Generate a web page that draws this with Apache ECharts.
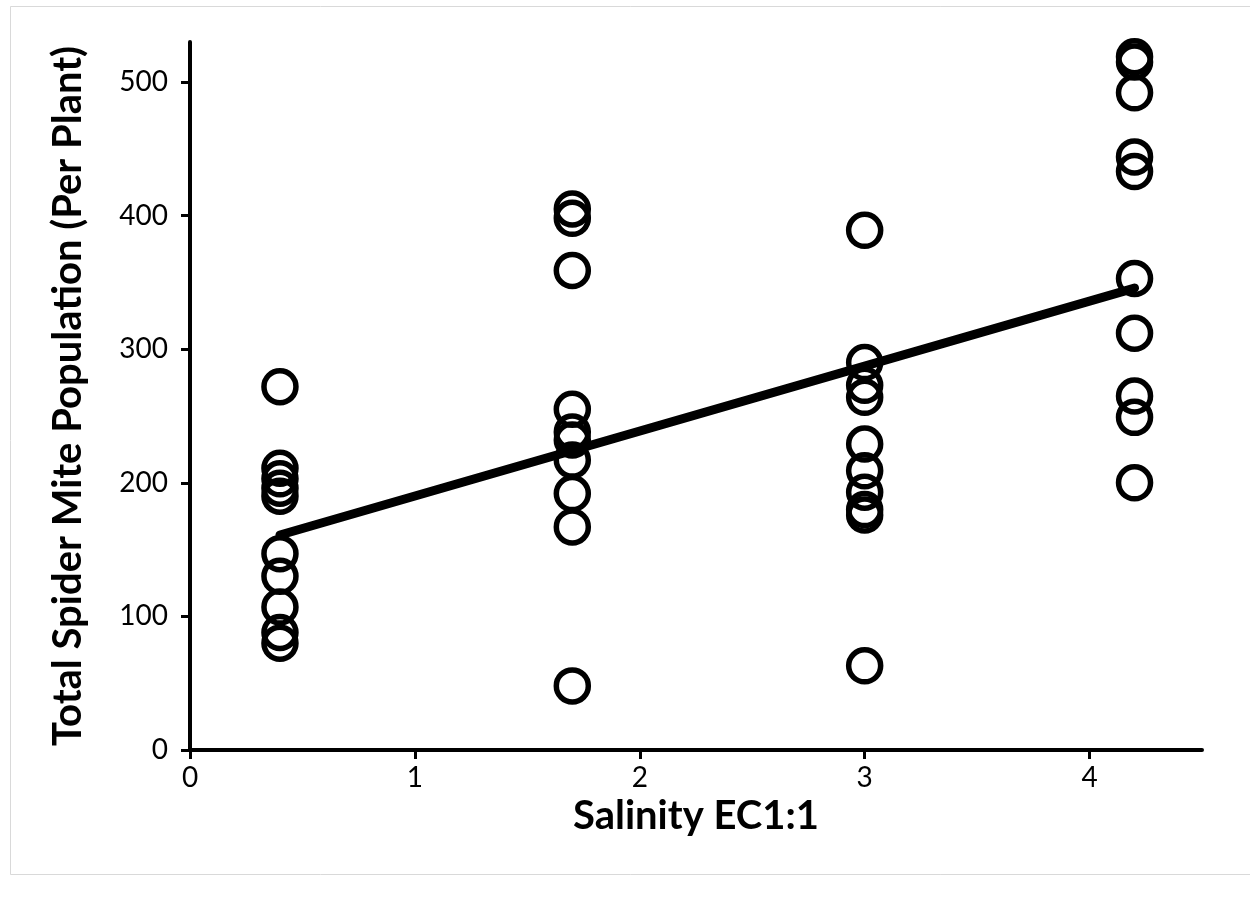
<!DOCTYPE html>
<html>
<head>
<meta charset="utf-8">
<script src="https://cdn.jsdelivr.net/npm/echarts@6/dist/echarts.min.js"></script>
<style>html,body{margin:0;padding:0;background:#fff}#c{width:1250px;height:907px}</style>
</head>
<body>
<div id="c"></div>
<script>
const salinityLevels = [0.4, 1.7, 3.0, 4.2];
const mitesAt04 = [272, 211, 203, 196, 190, 147, 130, 107, 88, 80];
const mitesAt17 = [405, 398, 359, 255, 238, 232, 217, 192, 167, 48];
const mitesAt30 = [389, 290, 273, 264, 229, 209, 193, 180, 176, 63];
const mitesAt42 = [519, 515, 492, 444, 433, 353, 312, 265, 249, 200];
const xTicks = [0, 1, 2, 3, 4];
const yTicks = [0, 100, 200, 300, 400, 500];

const groups = [mitesAt04, mitesAt17, mitesAt30, mitesAt42];
const points = [];
groups.forEach((g, i) => g.forEach(v => points.push([salinityLevels[i], v])));

// least-squares trend line from the observed points
const n = points.length;
const mx = points.reduce((s, p) => s + p[0], 0) / n;
const my = points.reduce((s, p) => s + p[1], 0) / n;
let sxy = 0, sxx = 0;
points.forEach(p => { sxy += (p[0] - mx) * (p[1] - my); sxx += (p[0] - mx) ** 2; });
const slope = sxy / sxx, icpt = my - slope * mx;
const xLo = salinityLevels[0], xHi = salinityLevels[salinityLevels.length - 1];
const trend = [[xLo, icpt + slope * xLo], [xHi, icpt + slope * xHi]];

const FONT = 'Lato';
const chart = echarts.init(document.getElementById('c'), null, {renderer: 'canvas'});
chart.setOption({
  backgroundColor: '#fff',
  animation: false,
  graphic: [{
    type: 'rect', left: 8, top: 4, shape: {width: 1260, height: 868},
    style: {fill: 'none', stroke: '#d9d9d9', lineWidth: 1}, silent: true, z: -10
  }],
  grid: {left: 190, right: 48, top: 42, bottom: 157, containLabel: false},
  xAxis: {
    type: 'value', min: 0, max: 4.5, interval: 1,
    name: 'Salinity EC1:1', nameLocation: 'middle', nameGap: 46, nameMoveOverlap: false,
    nameTextStyle: {fontFamily: FONT, fontWeight: 'bold', fontSize: 40, color: '#000'},
    axisLine: {show: true, onZero: false, lineStyle: {color: '#000', width: 4}},
    axisTick: {show: true, length: 9, lineStyle: {color: '#000', width: 3}, customValues: xTicks},
    axisLabel: {fontFamily: FONT, fontSize: 28, color: '#000', margin: 14, customValues: xTicks},
    splitLine: {show: false}
  },
  yAxis: {
    type: 'value', min: 0, max: 530, interval: 100,
    name: 'Total Spider Mite Population (Per Plant)', nameLocation: 'middle', nameGap: 102,
    nameMoveOverlap: false, nameRotate: 90,
    nameTextStyle: {fontFamily: FONT, fontWeight: 'bold', fontSize: 40, color: '#000'},
    axisLine: {show: true, onZero: false, lineStyle: {color: '#000', width: 4}},
    axisTick: {show: true, length: 9, lineStyle: {color: '#000', width: 3}, customValues: yTicks},
    axisLabel: {fontFamily: FONT, fontSize: 28, color: '#000', margin: 22, customValues: yTicks},
    splitLine: {show: false}
  },
  series: [{
    type: 'scatter', data: points, symbol: 'circle', symbolSize: 32,
    itemStyle: {color: 'rgba(0,0,0,0)', borderColor: '#000', borderWidth: 5.5, opacity: 1},
    z: 2
  }, {
    type: 'line', data: trend, symbol: 'none',
    lineStyle: {color: '#000', width: 9, cap: 'round'}, z: 3
  }]
});
</script>
</body>
</html>
